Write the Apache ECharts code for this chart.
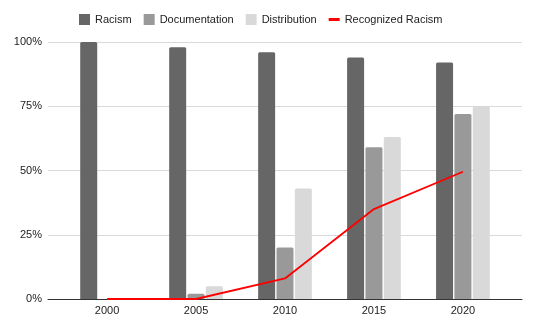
<!DOCTYPE html>
<html>
<head>
<meta charset="utf-8">
<script src="https://cdn.jsdelivr.net/npm/echarts@6/dist/echarts.min.js"></script>
<style>
html,body{margin:0;padding:0;background:#fff;}
#c{width:537px;height:330px;}
</style>
</head>
<body>
<div id="c"></div>
<script>
const categories = ['2000', '2005', '2010', '2015', '2020'];
const racism = [100, 98, 96, 94, 92];
const documentation = [0, 2, 20, 59, 72];
const distribution = [0, 5, 43, 63, 75];
const recognizedRacism = [0, 0, 8, 35, 49.5];
const yTicks = [0, 25, 50, 75, 100];

const years = categories.map(Number);
const pair = arr => arr.map((v, i) => [years[i], v]);

const chart = echarts.init(document.getElementById('c'), null, {renderer: 'canvas'});
const font = 'Liberation Sans, Arial, sans-serif';
chart.setOption({
  animation: false,
  backgroundColor: '#ffffff',
  textStyle: {fontFamily: font},
  legend: {
    top: 9,
    left: 74,
    itemWidth: 11,
    itemHeight: 11,
    itemGap: 12,
    textStyle: {fontSize: 11, color: '#222', fontFamily: font},
    data: [
      {name: 'Racism', icon: 'rect'},
      {name: 'Documentation', icon: 'rect'},
      {name: 'Distribution', icon: 'rect'},
      {name: 'Recognized Racism', icon: 'path://M0,4H11V7H0Z', itemStyle: {color: '#ff0000'}}
    ]
  },
  grid: {left: 48, right: 15, top: 42, bottom: 31, containLabel: false},
  xAxis: {
    type: 'value',
    min: 1996.68,
    max: 2023.32,
    axisLine: {show: true, lineStyle: {color: '#333', width: 1}},
    axisTick: {show: false},
    splitLine: {show: false},
    axisLabel: {
      customValues: years,
      formatter: v => String(Math.round(v)),
      fontSize: 11, color: '#222', margin: 6, fontFamily: font
    }
  },
  yAxis: {
    type: 'value',
    min: 0, max: 100, interval: 25,
    axisLine: {show: false},
    axisTick: {show: false},
    splitLine: {lineStyle: {color: '#d9d9d9', width: 1}},
    axisLabel: {formatter: v => yTicks.includes(v) ? v + '%' : '', fontSize: 11, color: '#222', margin: 6, fontFamily: font}
  },
  series: [
    {name: 'Racism', type: 'bar', data: pair(racism), barWidth: 17, barGap: '8%',
     itemStyle: {color: '#666666', borderRadius: [1.5, 1.5, 0, 0]}},
    {name: 'Documentation', type: 'bar', data: pair(documentation), barWidth: 17, barGap: '8%',
     itemStyle: {color: '#999999', borderRadius: [1.5, 1.5, 0, 0]}},
    {name: 'Distribution', type: 'bar', data: pair(distribution), barWidth: 17, barGap: '8%',
     itemStyle: {color: '#d9d9d9', borderRadius: [1.5, 1.5, 0, 0]}},
    {name: 'Recognized Racism', type: 'line', data: pair(recognizedRacism),
     symbol: 'none', lineStyle: {color: '#ff0000', width: 1.8}, itemStyle: {color: '#ff0000'}, z: 5}
  ]
});
</script>
</body>
</html>
